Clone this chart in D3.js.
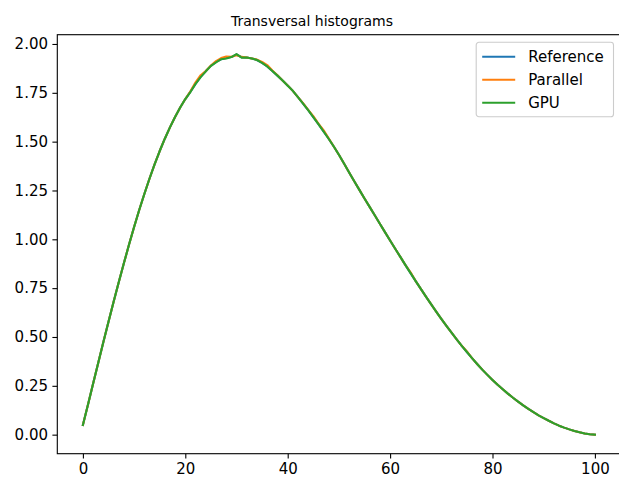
<!DOCTYPE html>
<html>
<head>
<meta charset="utf-8">
<script src="https://cdn.jsdelivr.net/npm/d3@7"></script>
<style>
  body { margin: 0; background: #fff; }
  svg text { font-family: "DejaVu Sans", sans-serif; fill: #000; }
</style>
</head>
<body>
<div id="chart"></div>
<script>
// sample index along the profile
var bins = d3.range(0, 101);

var referenceVals = [
  0.050, 0.155, 0.262, 0.368, 0.474, 0.578, 0.680, 0.780, 0.877, 0.972,
  1.063, 1.150, 1.232, 1.310, 1.384, 1.452, 1.515, 1.573, 1.626, 1.675,
  1.718, 1.756, 1.796, 1.832, 1.860, 1.888, 1.908, 1.922, 1.928, 1.933,
  1.946, 1.932, 1.931, 1.926, 1.918, 1.903, 1.885, 1.862, 1.838, 1.813,
  1.788, 1.760, 1.728, 1.695, 1.661, 1.626, 1.590, 1.553, 1.515, 1.475,
  1.433, 1.388, 1.342, 1.297, 1.253, 1.209, 1.166, 1.123, 1.080, 1.037,
  0.994, 0.952, 0.910, 0.868, 0.827, 0.786, 0.746, 0.707, 0.668, 0.630,
  0.593, 0.557, 0.522, 0.488, 0.455, 0.423, 0.392, 0.362, 0.333, 0.306,
  0.280, 0.255, 0.232, 0.210, 0.189, 0.169, 0.150, 0.132, 0.115, 0.099,
  0.085, 0.071, 0.058, 0.046, 0.036, 0.027, 0.019, 0.012, 0.006, 0.002,
  0.000
];

var parallelVals = [
  0.050, 0.155, 0.262, 0.368, 0.474, 0.578, 0.680, 0.780, 0.877, 0.972,
  1.063, 1.150, 1.232, 1.310, 1.384, 1.452, 1.515, 1.573, 1.626, 1.675,
  1.718, 1.758, 1.804, 1.840, 1.862, 1.890, 1.912, 1.928, 1.936, 1.935,
  1.942, 1.934, 1.931, 1.926, 1.920, 1.908, 1.892, 1.864, 1.840, 1.813,
  1.788, 1.760, 1.728, 1.697, 1.663, 1.631, 1.592, 1.559, 1.517, 1.475,
  1.433, 1.388, 1.342, 1.297, 1.253, 1.209, 1.166, 1.123, 1.080, 1.037,
  0.994, 0.952, 0.910, 0.868, 0.831, 0.786, 0.746, 0.707, 0.668, 0.630,
  0.593, 0.557, 0.522, 0.488, 0.455, 0.426, 0.392, 0.362, 0.333, 0.306,
  0.280, 0.255, 0.232, 0.210, 0.189, 0.169, 0.150, 0.132, 0.115, 0.099,
  0.085, 0.071, 0.058, 0.046, 0.036, 0.027, 0.019, 0.012, 0.006, 0.002,
  0.000
];

var gpuVals = [
  0.050, 0.155, 0.262, 0.368, 0.474, 0.578, 0.680, 0.780, 0.877, 0.972,
  1.063, 1.150, 1.232, 1.310, 1.384, 1.452, 1.515, 1.573, 1.626, 1.675,
  1.718, 1.754, 1.796, 1.830, 1.860, 1.888, 1.906, 1.922, 1.926, 1.933,
  1.948, 1.930, 1.931, 1.926, 1.918, 1.903, 1.885, 1.862, 1.838, 1.813,
  1.786, 1.760, 1.728, 1.695, 1.661, 1.626, 1.590, 1.553, 1.515, 1.475,
  1.433, 1.388, 1.342, 1.297, 1.253, 1.209, 1.166, 1.123, 1.080, 1.037,
  0.994, 0.952, 0.910, 0.868, 0.827, 0.786, 0.746, 0.707, 0.668, 0.630,
  0.593, 0.557, 0.522, 0.488, 0.455, 0.423, 0.392, 0.362, 0.333, 0.306,
  0.280, 0.255, 0.232, 0.210, 0.189, 0.169, 0.150, 0.132, 0.115, 0.099,
  0.085, 0.071, 0.058, 0.046, 0.036, 0.027, 0.019, 0.012, 0.006, 0.002,
  0.000
];

var seriesNames = ["Reference", "Parallel", "GPU"];
var seriesColors = ["#1f77b4", "#ff7f0e", "#2ca02c"];
var xTicks = [0, 20, 40, 60, 80, 100];
var yTicks = [0, 0.25, 0.5, 0.75, 1.0, 1.25, 1.5, 1.75, 2.0];
var titleText = "Transversal histograms";

var width = 619, height = 482;
var margin = { top: 34.7, right: -1.5, bottom: 28.3, left: 57.3 };
var fs = 15;

var svg = d3.select("#chart").append("svg")
    .attr("width", width)
    .attr("height", height);

svg.append("rect").attr("width", width).attr("height", height).attr("fill", "#fff");

var x = d3.scaleLinear().domain([-5, 105]).range([margin.left, width - margin.right]);
var y = d3.scaleLinear().domain([-0.0975, 2.0475]).range([height - margin.bottom, margin.top]);

// axes
var xAxis = svg.append("g")
    .attr("transform", "translate(0," + (height - margin.bottom) + ")")
    .call(d3.axisBottom(x).tickValues(xTicks).tickSize(4.9).tickPadding(4.4).tickFormat(d3.format("d")));
var yAxis = svg.append("g")
    .attr("transform", "translate(" + margin.left + ",0)")
    .call(d3.axisLeft(y).tickValues(yTicks).tickSize(4.9).tickPadding(4.4).tickFormat(d3.format(".2f")));

[xAxis, yAxis].forEach(function (g) {
    g.select(".domain").remove();
    g.selectAll(".tick line").attr("stroke", "#000").attr("stroke-width", 1.1);
    g.selectAll(".tick text").style("font-size", fs + "px").attr("fill", "#000");
});

// lines
var line = d3.line()
    .x(function (d, i) { return x(bins[i]); })
    .y(function (d) { return y(d); });

var allSeries = [referenceVals, parallelVals, gpuVals];
allSeries.forEach(function (vals, i) {
    svg.append("path")
        .datum(vals)
        .attr("d", line)
        .attr("fill", "none")
        .attr("stroke", seriesColors[i])
        .attr("stroke-width", 2.08)
        .attr("stroke-linejoin", "round")
        .attr("stroke-linecap", "square");
});

// spines
svg.append("rect")
    .attr("x", margin.left)
    .attr("y", margin.top)
    .attr("width", width - margin.right - margin.left)
    .attr("height", height - margin.bottom - margin.top)
    .attr("fill", "none")
    .attr("stroke", "#000")
    .attr("stroke-width", 1.1);

// title
svg.append("text")
    .attr("x", 312)
    .attr("y", margin.top - 8.8)
    .attr("text-anchor", "middle")
    .style("font-size", "14px")
    .text(titleText);

// legend
var legW = 137.3, legH = 74.4;
var legX = width - margin.right - 7 - legW, legY = margin.top + 7.6;
var legend = svg.append("g").attr("transform", "translate(" + legX + "," + legY + ")");
legend.append("rect")
    .attr("width", legW).attr("height", legH)
    .attr("rx", 2.8)
    .attr("fill", "#fff").attr("fill-opacity", 0.8)
    .attr("stroke", "#cccccc").attr("stroke-width", 1.1);

seriesNames.forEach(function (name, i) {
    var ly = 14.4 + i * 23;
    legend.append("line")
        .attr("x1", 6).attr("x2", 39)
        .attr("y1", ly).attr("y2", ly)
        .attr("stroke", seriesColors[i])
        .attr("stroke-width", 2.08);
    legend.append("text")
        .attr("x", 52).attr("y", ly)
        .attr("dy", "0.35em")
        .style("font-size", fs + "px")
        .text(name);
});
</script>
</body>
</html>
